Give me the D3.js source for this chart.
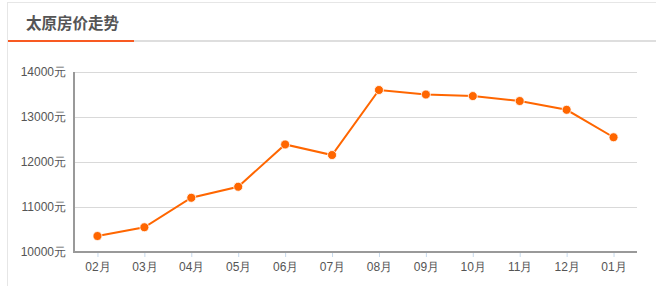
<!DOCTYPE html>
<html>
<head>
<meta charset="utf-8">
<script src="https://cdn.jsdelivr.net/npm/d3@7"></script>
<style>
  html, body { margin: 0; padding: 0; background: #fff; }
  svg { display: block; font-family: "Noto Sans CJK SC", "Noto Sans", sans-serif; }
</style>
</head>
<body>
<div id="chart"></div>
<script>
'use strict'

const title = '太原房价走势'
const months = ['02月', '03月', '04月', '05月', '06月', '07月', '08月', '09月', '10月', '11月', '12月', '01月']
const prices = [10355, 10550, 11205, 11450, 12390, 12155, 13600, 13500, 13465, 13355, 13160, 12550]
const yTicks = [10000, 11000, 12000, 13000, 14000]

const width = 656
const height = 286
const margin = { top: 72, right: 19, bottom: 34, left: 74 }

const svg = d3.select('#chart')
  .append('svg')
  .attr('width', width)
  .attr('height', height)

// panel frame + header
svg.append('line')
  .attr('x1', 7).attr('x2', width).attr('y1', 2.5).attr('y2', 2.5)
  .attr('stroke', '#e6e6e6').attr('stroke-width', 1)
svg.append('line')
  .attr('x1', 7.5).attr('x2', 7.5).attr('y1', 2).attr('y2', height)
  .attr('stroke', '#e6e6e6').attr('stroke-width', 1)

svg.append('text')
  .attr('x', 26)
  .attr('y', 29)
  .attr('fill', '#555')
  .attr('font-size', 15.5)
  .attr('font-weight', 'bold')
  .text(title)

svg.append('rect')
  .attr('x', 134).attr('y', 40).attr('width', width - 134).attr('height', 2)
  .attr('fill', '#dedede')
svg.append('rect')
  .attr('x', 8).attr('y', 40).attr('width', 126).attr('height', 2)
  .attr('fill', '#f85a22')

const innerW = width - margin.left - margin.right
const innerH = height - margin.top - margin.bottom

const x = d3.scalePoint()
  .domain(months)
  .range([0, innerW])
  .padding(0.5)

const y = d3.scaleLinear()
  .domain([10000, 14000])
  .range([innerH, 0])

const g = svg.append('g')
  .attr('transform', `translate(${margin.left}, ${margin.top})`)

// gridlines
g.append('g')
  .selectAll('line')
  .data(yTicks.slice(1))
  .join('line')
  .attr('x1', 0).attr('x2', innerW)
  .attr('y1', (d) => Math.round(y(d)) + 0.5)
  .attr('y2', (d) => Math.round(y(d)) + 0.5)
  .attr('stroke', '#d9d9d9')

// y axis
const yAxis = d3.axisLeft(y).tickValues(yTicks).tickSize(0).tickPadding(8).tickFormat((d) => d + '元')
const yAxisG = g.append('g').call(yAxis)
yAxisG.select('.domain').remove()
yAxisG.selectAll('text').attr('fill', '#555').attr('font-size', 12)
g.append('line')
  .attr('x1', 0).attr('x2', 0).attr('y1', 0).attr('y2', innerH)
  .attr('stroke', '#999').attr('stroke-width', 2)

// x axis
const xAxis = d3.axisBottom(x).tickSize(5).tickPadding(5)
const xAxisG = g.append('g')
  .attr('transform', `translate(0, ${innerH})`)
  .call(xAxis)
xAxisG.select('.domain').remove()
xAxisG.selectAll('.tick line').attr('stroke', '#c6d9ec')
xAxisG.selectAll('text').attr('fill', '#555').attr('font-size', 12)
g.append('line')
  .attr('x1', -1).attr('x2', innerW).attr('y1', innerH).attr('y2', innerH)
  .attr('stroke', '#999').attr('stroke-width', 2)

// series
const line = d3.line()
  .x((d, i) => x(months[i]))
  .y((d) => y(d))

g.append('path')
  .datum(prices)
  .attr('d', line)
  .attr('fill', 'none')
  .attr('stroke', '#ff6600')
  .attr('stroke-width', 2)

g.selectAll('.dot')
  .data(prices)
  .join('circle')
  .attr('class', 'dot')
  .attr('cx', (d, i) => x(months[i]))
  .attr('cy', (d) => y(d))
  .attr('r', 4.5)
  .attr('fill', '#ff6600')
  .attr('stroke', '#fff')
  .attr('stroke-width', 0.8)
</script>
</body>
</html>
